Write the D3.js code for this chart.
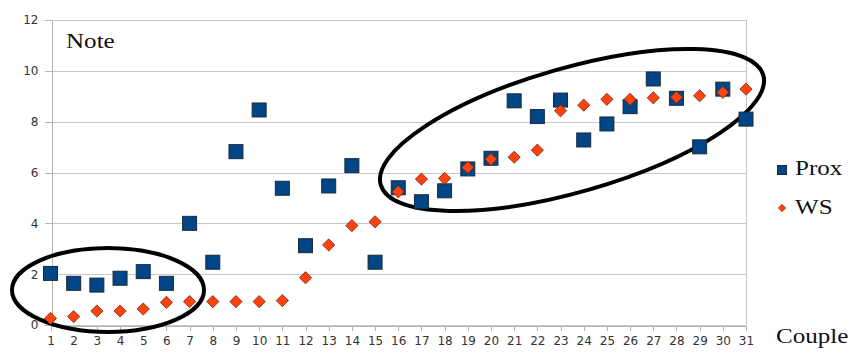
<!DOCTYPE html>
<meta charset="utf-8">
<style>
  body { margin: 0; background: white; }
  .axis text { font: 12px "DejaVu Sans", sans-serif; fill: #333; }
  .axis path, .axis line { stroke: #b3b3b3; shape-rendering: crispEdges; }
  .grid line { stroke: #c8c8c8; shape-rendering: crispEdges; }
  .serif { font-family: "Liberation Serif", serif; font-size: 22px; fill: #111; }
</style>
<body>
<script src="https://cdn.jsdelivr.net/npm/d3@7"></script>
<script>
  // couples 1..31
  var couples = d3.range(1, 32);
  var prox = [2.03, 1.64, 1.57, 1.84, 2.1, 1.64, 4.0, 2.47, 6.82, 8.46, 5.38,
    3.12, 5.47, 6.27, 2.47, 5.4, 4.85, 5.28, 6.14, 6.56, 8.82, 8.2, 8.85,
    7.28, 7.91, 8.59, 9.68, 8.92, 7.01, 9.28, 8.1];
  var ws = [0.26, 0.33, 0.55, 0.55, 0.63, 0.89, 0.92, 0.92, 0.92, 0.92, 0.96,
    1.86, 3.15, 3.91, 4.06, 5.24, 5.74, 5.77, 6.2, 6.52, 6.6, 6.88, 8.43,
    8.65, 8.88, 8.88, 8.94, 8.96, 9.02, 9.15, 9.28];
  var yTicks = [0, 2, 4, 6, 8, 10, 12];

  var width = 853, height = 354;
  var margin = { top: 20, right: 107, bottom: 29, left: 50.5 };

  var svg = d3.select("body").append("svg")
    .attr("width", width)
    .attr("height", height);

  var x = d3.scaleLinear().domain([1, 31]).range([margin.left, width - margin.right]);
  var y = d3.scaleLinear().domain([0, 12]).range([height - margin.bottom, margin.top]);

  // horizontal grid
  svg.append("g").attr("class", "grid")
    .selectAll("line").data(yTicks).enter().append("line")
    .attr("x1", x(1)).attr("x2", x(31))
    .attr("y1", d => Math.round(y(d)) + 0.5).attr("y2", d => Math.round(y(d)) + 0.5);

  // right border
  svg.append("line")
    .attr("x1", Math.round(x(31)) + 0.5).attr("x2", Math.round(x(31)) + 0.5)
    .attr("y1", y(12)).attr("y2", y(0))
    .attr("stroke", "#c8c8c8");

  svg.append("g").attr("class", "axis")
    .attr("transform", "translate(0," + (Math.round(y(0)) + 0.5) + ")")
    .call(d3.axisBottom(x).tickValues(couples).tickFormat(d3.format("d")).tickSize(5).tickSizeOuter(0).tickPadding(6));

  svg.append("g").attr("class", "axis")
    .attr("transform", "translate(" + (Math.round(x(1)) + 0.5) + ",0)")
    .call(d3.axisLeft(y).tickValues(yTicks).tickSize(7).tickSizeOuter(0).tickPadding(6));

  svg.selectAll(".axis .domain").attr("stroke", "#b3b3b3");

  // ellipses
  svg.append("ellipse")
    .attr("cx", 108).attr("cy", 290).attr("rx", 96).attr("ry", 42)
    .attr("fill", "none").attr("stroke", "#000").attr("stroke-width", 4);
  svg.append("ellipse")
    .attr("cx", 0).attr("cy", 0).attr("rx", 199).attr("ry", 62)
    .attr("transform", "translate(572,130) rotate(-16)")
    .attr("fill", "none").attr("stroke", "#000").attr("stroke-width", 4);

  // Prox squares
  var s = 14;
  svg.append("g").selectAll("rect").data(prox).enter().append("rect")
    .attr("x", (d, i) => x(couples[i]) - s / 2)
    .attr("y", d => y(d) - s / 2)
    .attr("width", s).attr("height", s)
    .attr("fill", "#004586").attr("stroke", "#1a2a3a").attr("stroke-width", 1);

  // WS diamonds
  var diamond = d3.symbol().type(d3.symbolDiamond2).size(95);
  svg.append("g").selectAll("path").data(ws).enter().append("path")
    .attr("d", diamond)
    .attr("transform", (d, i) => "translate(" + x(couples[i]) + "," + y(d) + ")")
    .attr("fill", "#ff420e").attr("stroke", "#6a2a10").attr("stroke-width", 0.8);

  // serif labels are a bit wider in the original
  function label(tx, ty, str) {
    svg.append("text").attr("class", "serif")
      .attr("transform", "translate(" + tx + "," + ty + ") scale(1.14,1)")
      .text(str);
  }
  label(66, 48, "Note");
  label(776, 343, "Couple");

  // legend
  svg.append("rect").attr("x", 777.5).attr("y", 165.5).attr("width", 9).attr("height", 9)
    .attr("fill", "#004586").attr("stroke", "#1a2a3a");
  label(795, 175, "Prox");
  svg.append("path").attr("d", d3.symbol().type(d3.symbolDiamond2).size(36))
    .attr("transform", "translate(782,208)")
    .attr("fill", "#ff420e").attr("stroke", "#6a2a10").attr("stroke-width", 0.6);
  label(795, 214, "WS");
</script>
</body>
